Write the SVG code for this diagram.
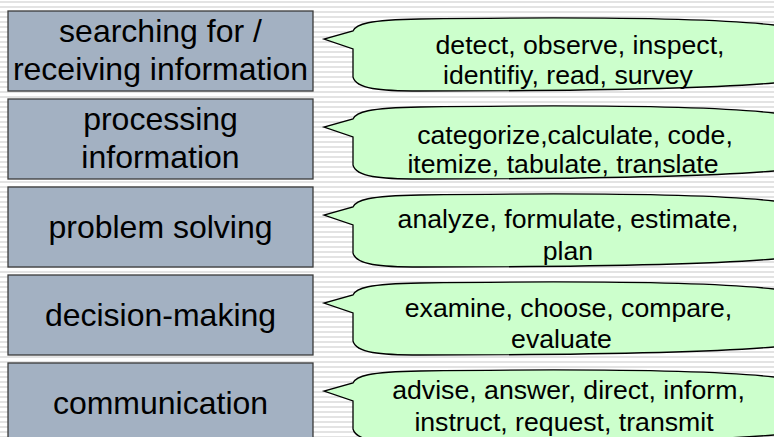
<svg xmlns="http://www.w3.org/2000/svg" width="774" height="437" viewBox="0 0 774 437">
<defs>
<pattern id="stripes" x="0" y="0" width="10" height="5" patternUnits="userSpaceOnUse">
<rect x="0" y="0" width="10" height="5" fill="#ffffff"/>
<rect x="0" y="1" width="10" height="2" fill="#e3e3e3"/>
</pattern>
<style>
.box{fill:#a3b1c2;stroke:#3a3a3a;stroke-width:1.3}
.bt{font-family:"Liberation Sans",Arial,sans-serif;font-size:32px;fill:#000;text-anchor:middle}
.co{fill:#ccffcc;stroke:#000;stroke-width:1.3;stroke-linejoin:miter}
.ct{font-family:"Liberation Sans",Arial,sans-serif;font-size:26.67px;fill:#000;text-anchor:middle}
</style>
</defs>
<rect x="0" y="0" width="774" height="437" fill="url(#stripes)"/>

<g id="connectors"></g>

<g id="node1">
<rect class="box" x="8" y="11" width="305" height="80"/>
<text class="bt" x="160.5" y="42">searching for /</text>
<text class="bt" x="160.5" y="80">receiving information</text>
</g>
<g id="node2">
<rect class="box" x="8" y="99" width="305" height="80"/>
<text class="bt" x="160.5" y="130">processing</text>
<text class="bt" x="160.5" y="168">information</text>
</g>
<g id="node3">
<rect class="box" x="8" y="187" width="305" height="80"/>
<text class="bt" x="160.5" y="238">problem solving</text>
</g>
<g id="node4">
<rect class="box" x="8" y="275" width="305" height="80"/>
<text class="bt" x="160.5" y="326">decision-making</text>
</g>
<g id="node5">
<rect class="box" x="8" y="363" width="305" height="80"/>
<text class="bt" x="160.5" y="414">communication</text>
</g>

<g id="callout1" transform="translate(0,11)">
<path class="co" d="M353,20 C356,13 368,9 420,8 C560,6 700,6 774,14 L800,20 L800,70 L774,72 C700,78 560,80 420,80 C380,80 356,78 353,66 L353,38 L324,28 Z"/>
<text class="ct" x="580" y="43">detect, observe, inspect,</text>
<text class="ct" x="568" y="73">identifiy, read, survey</text>
</g>
<g id="callout2" transform="translate(0,99)">
<path class="co" d="M353,20 C356,13 368,9 420,8 C560,6 700,6 774,14 L800,20 L800,70 L774,72 C700,78 560,80 420,80 C380,80 356,78 353,66 L353,38 L324,28 Z"/>
<text class="ct" x="575" y="45">categorize,calculate, code,</text>
<text class="ct" x="563" y="74">itemize, tabulate, translate</text>
</g>
<g id="callout3" transform="translate(0,187)">
<path class="co" d="M353,20 C356,13 368,9 420,8 C560,6 700,6 774,14 L800,20 L800,70 L774,72 C700,78 560,80 420,80 C380,80 356,78 353,66 L353,38 L324,28 Z"/>
<text class="ct" x="568" y="41">analyze, formulate, estimate,</text>
<text class="ct" x="568" y="73">plan</text>
</g>
<g id="callout4" transform="translate(0,275)">
<path class="co" d="M353,20 C356,13 368,9 420,8 C560,6 700,6 774,14 L800,20 L800,70 L774,72 C700,78 560,80 420,80 C380,80 356,78 353,66 L353,38 L324,28 Z"/>
<text class="ct" x="568.5" y="42">examine, choose, compare,</text>
<text class="ct" x="561.5" y="73">evaluate</text>
</g>
<g id="callout5" transform="translate(0,363)">
<path class="co" d="M353,20 C356,13 368,9 420,8 C560,6 700,6 774,14 L800,20 L800,70 L774,72 C700,78 560,80 420,80 C380,80 356,78 353,66 L353,38 L324,28 Z"/>
<text class="ct" x="568.5" y="36">advise, answer, direct, inform,</text>
<text class="ct" x="564" y="68">instruct, request, transmit</text>
</g>
</svg>
